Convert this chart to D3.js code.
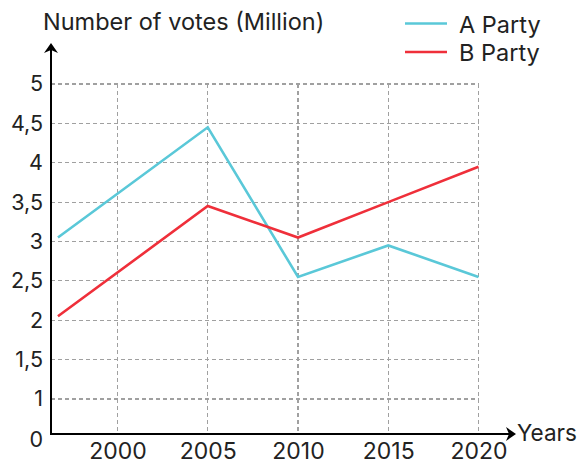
<!doctype html>
<html lang="en">
<head>
<meta charset="utf-8">
<title>Number of votes</title>
<style>
  body { margin: 0; background: #fff; }
  #chart text { font-family: Inter, "Noto Sans", sans-serif; fill: #222; }
  .grid line { stroke: #a0a0a0; stroke-width: 1.2; stroke-dasharray: 4,3; shape-rendering: crispEdges; }
  .y-axis path, .y-axis line { display: none; }
  .x-axis path, .x-axis line { display: none; }
</style>
</head>
<body>
<div id="chart"></div>
<script src="https://d3js.org/d3.v7.min.js"></script>
<script type="text/javascript">

  // data
  var years = [1996.7, 2005, 2010, 2015, 2020];
  var partyA = [3.05, 4.45, 2.55, 2.95, 2.55];
  var partyB = [2.05, 3.45, 3.05, 3.5, 3.95];
  var seriesNames = ['A Party', 'B Party'];
  var seriesColors = ['#5ac8d8', '#ef2f3a'];
  var xTicks = [2000, 2005, 2010, 2015, 2020];
  var yTicks = [1, 1.5, 2, 2.5, 3, 3.5, 4, 4.5, 5];

  var chartWidth = 579;
  var chartHeight = 463;
  var originX = 51;
  var originY = 434;

  var svg = d3.select('#chart')
    .append('svg')
    .attr('width', chartWidth)
    .attr('height', chartHeight);

  var xscale = d3.scaleLinear()
    .domain([2000, 2020])
    .range([117.5, 478.5]);

  // axis is broken below 1: 0 sits on the x axis
  var yscale = d3.scaleLinear()
    .domain([1, 5])
    .range([399, 84]);

  // grid
  var grid = svg.append('g').attr('class', 'grid');
  grid.selectAll('.h')
    .data(yTicks)
    .enter()
    .append('line')
    .attr('x1', originX)
    .attr('x2', xscale(2020))
    .attr('y1', function(d){ return yscale(d); })
    .attr('y2', function(d){ return yscale(d); });

  grid.selectAll('.v')
    .data(xTicks)
    .enter()
    .append('line')
    .attr('x1', function(d){ return xscale(d); })
    .attr('x2', function(d){ return xscale(d); })
    .attr('y1', yscale(5))
    .attr('y2', originY);

  // lines
  var line = d3.line()
    .x(function(d){ return xscale(d[0]); })
    .y(function(d){ return yscale(d[1]); });

  [partyA, partyB].forEach(function(vals, i){
    svg.append('path')
      .datum(d3.zip(years, vals))
      .attr('fill', 'none')
      .attr('stroke', seriesColors[i])
      .attr('stroke-width', 2.6)
      .attr('d', line);
  });

  // axes with arrows
  svg.append('line')
    .attr('x1', originX).attr('y1', originY + 1)
    .attr('x2', originX).attr('y2', 47)
    .attr('stroke', '#000').attr('stroke-width', 2);
  svg.append('path')
    .attr('d', 'M' + originX + ',43 L' + (originX - 7) + ',53 L' + originX + ',50 L' + (originX + 7) + ',53 Z')
    .attr('fill', '#000');

  svg.append('line')
    .attr('x1', originX - 1).attr('y1', originY)
    .attr('x2', 512).attr('y2', originY)
    .attr('stroke', '#000').attr('stroke-width', 2);
  svg.append('path')
    .attr('d', 'M516,' + originY + ' L506,' + (originY - 7) + ' L509,' + originY + ' L506,' + (originY + 7) + ' Z')
    .attr('fill', '#000');

  // tick labels
  var yaxis = d3.axisLeft(yscale)
    .tickValues(yTicks)
    .tickSize(0)
    .tickPadding(8)
    .tickFormat(function(d){ return String(d).replace('.', ','); });

  svg.append('g')
    .attr('class', 'y-axis')
    .attr('transform', 'translate(' + originX + ',0)')
    .call(yaxis)
    .selectAll('text')
    .style('font-size', '21.5px');

  svg.append('text')
    .attr('x', originX - 8)
    .attr('y', originY + 6)
    .attr('dy', '0.32em')
    .attr('text-anchor', 'end')
    .style('font-size', '21.5px')
    .text('0');

  var xaxis = d3.axisBottom(xscale)
    .tickValues(xTicks)
    .tickSize(0)
    .tickPadding(9)
    .tickFormat(d3.format('d'));

  svg.append('g')
    .attr('class', 'x-axis')
    .attr('transform', 'translate(0,' + originY + ')')
    .call(xaxis)
    .selectAll('text')
    .style('font-size', '23px');

  // titles
  svg.append('text')
    .attr('x', 43)
    .attr('y', 30)
    .style('font-size', '23.5px')
    .text('Number of votes (Million)');

  svg.append('text')
    .attr('x', 517)
    .attr('y', 441)
    .style('font-size', '22.5px')
    .text('Years');

  // legend
  var legend = svg.append('g').selectAll('g')
    .data(seriesNames)
    .enter()
    .append('g')
    .attr('transform', function(d, i){ return 'translate(405,' + (23.5 + i * 28.5) + ')'; });

  legend.append('line')
    .attr('x1', 0).attr('x2', 42)
    .attr('stroke', function(d, i){ return seriesColors[i]; })
    .attr('stroke-width', 2.6);

  legend.append('text')
    .attr('x', 54)
    .attr('y', 9)
    .style('font-size', '23.5px')
    .text(function(d){ return d; });

</script>
</body>
</html>
